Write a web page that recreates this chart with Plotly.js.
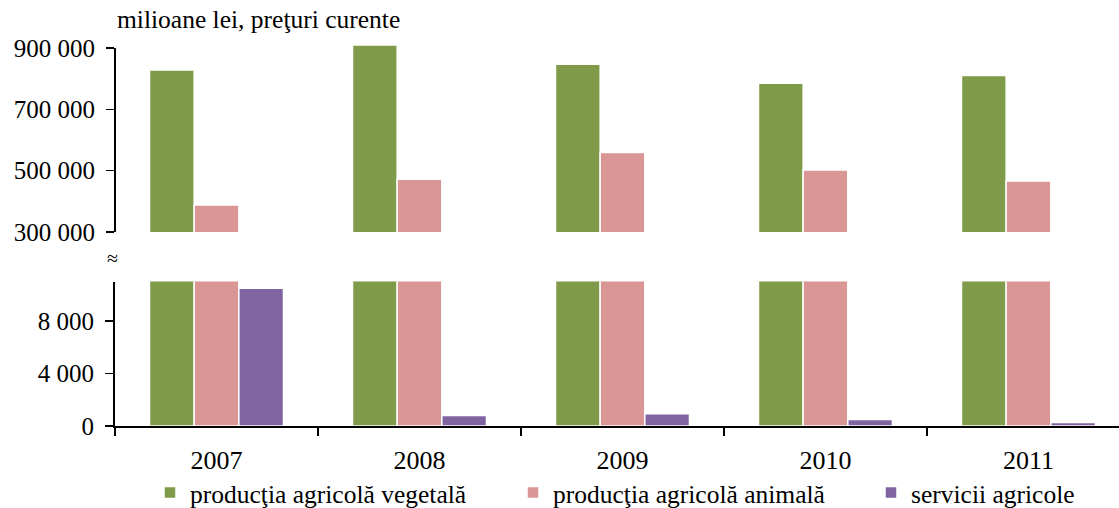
<!DOCTYPE html>
<html>
<head>
<meta charset="utf-8">
<script src="https://cdn.plot.ly/plotly-3.0.1.min.js"></script>
<style>html,body{margin:0;padding:0;background:#fff;}#chart{width:1119px;height:508px;}</style>
</head>
<body>
<div id="chart"></div>
<script>
const years = ['2007', '2008', '2009', '2010', '2011'];
const vegetala = [828000, 910000, 847000, 785000, 810000];
const animala = [388000, 472000, 559000, 502000, 466000];
const servicii = [10500, 800, 930, 490, 270];
const seriesNames = ['producţia agricolă vegetală', 'producţia agricolă animală', 'servicii agricole'];
const colors = ['#7f9a48', '#d99694', '#8064a2'];
const topTicks = [300000, 500000, 700000, 900000];
const bottomTicks = [0, 4000, 8000];
const unitTitle = 'milioane lei, preţuri curente';

const FONT = 'Liberation Serif';
const series = [vegetala, animala, servicii];
const legendIds = ['legend', 'legend2', 'legend3'];
const traces = [];
series.forEach((vals, i) => {
  traces.push({type: 'bar', x: years, y: vals, name: seriesNames[i], xaxis: 'x', yaxis: 'y', legend: legendIds[i],
    marker: {color: colors[i], line: {color: '#ffffff', width: 1.5}}, showlegend: true});
});
series.forEach((vals, i) => {
  traces.push({type: 'bar', x: years, y: vals, name: seriesNames[i], xaxis: 'x2', yaxis: 'y2',
    marker: {color: colors[i], line: {color: '#ffffff', width: 1.5}}, showlegend: false});
});

const H = 508;
function legendAt(px) {
  return {orientation: 'h', x: (px - 115)/1004, xanchor: 'left', y: (H - 493)/H, yanchor: 'middle',
    itemwidth: 30, font: {family: FONT, size: 25.5, color: '#000'}, bgcolor: 'rgba(0,0,0,0)'};
}
const layout = {
  width: 1119, height: 508,
  margin: {l: 115, r: 0, t: 0, b: 0, autoexpand: false},
  paper_bgcolor: '#fff', plot_bgcolor: '#fff',
  font: {family: FONT, size: 25, color: '#000'},
  separators: ', ',
  barmode: 'group', bargap: 0.34, bargroupgap: 0,
  title: {text: unitTitle, x: 117/1119, xanchor: 'left', xref: 'container', y: 1 - 19/H, yanchor: 'middle', yref: 'container',
    font: {family: FONT, size: 25.5, color: '#000'}},
  xaxis: {domain: [0, 1], range: [-0.5, 4.446], type: 'category', showline: true, linecolor: '#000', linewidth: 2,
    ticks: 'outside', tickson: 'boundaries', ticklen: 8, tickwidth: 1.5, tickcolor: '#000',
    showgrid: false, zeroline: false, anchor: 'y', ticklabelstandoff: 10, automargin: false,
    tickfont: {family: FONT, size: 26}},
  xaxis2: {domain: [0, 1], range: [-0.5, 4.446], type: 'category', visible: false, anchor: 'y2', matches: 'x'},
  yaxis: {domain: [(H - 426)/H, (H - 281.6)/H], range: [0, 11000], tickvals: bottomTicks, tickformat: ',d',
    showline: true, linecolor: '#000', linewidth: 2, ticks: 'outside', ticklen: 8, tickwidth: 1.5, tickcolor: '#000',
    showgrid: false, zeroline: false, anchor: 'x', ticklabelstandoff: 6, automargin: false, tickfont: {family: FONT, size: 25}},
  yaxis2: {domain: [(H - 232)/H, (H - 44.3)/H], range: [300000, 912000], tickvals: topTicks, tickformat: ',d',
    showline: false, ticks: 'outside', ticklen: 8, tickwidth: 1.5, tickcolor: '#000',
    showgrid: false, zeroline: false, anchor: 'x2', ticklabelstandoff: 6, automargin: false, tickfont: {family: FONT, size: 25}},
  shapes: [{type: 'line', xref: 'paper', yref: 'y2', x0: 0, x1: 0, y0: topTicks[0], y1: topTicks[topTicks.length - 1],
    line: {color: '#000', width: 2}}],
  annotations: [{text: '≈', xref: 'paper', yref: 'paper', x: -0.002, y: (H - 258)/H, showarrow: false,
    xanchor: 'center', yanchor: 'middle', font: {family: FONT, size: 20, color: '#000'}}],
  legend: legendAt(150),
  legend2: legendAt(513),
  legend3: legendAt(871)
};
Plotly.newPlot('chart', traces, layout, {displayModeBar: false, staticPlot: true});
</script>
</body>
</html>
